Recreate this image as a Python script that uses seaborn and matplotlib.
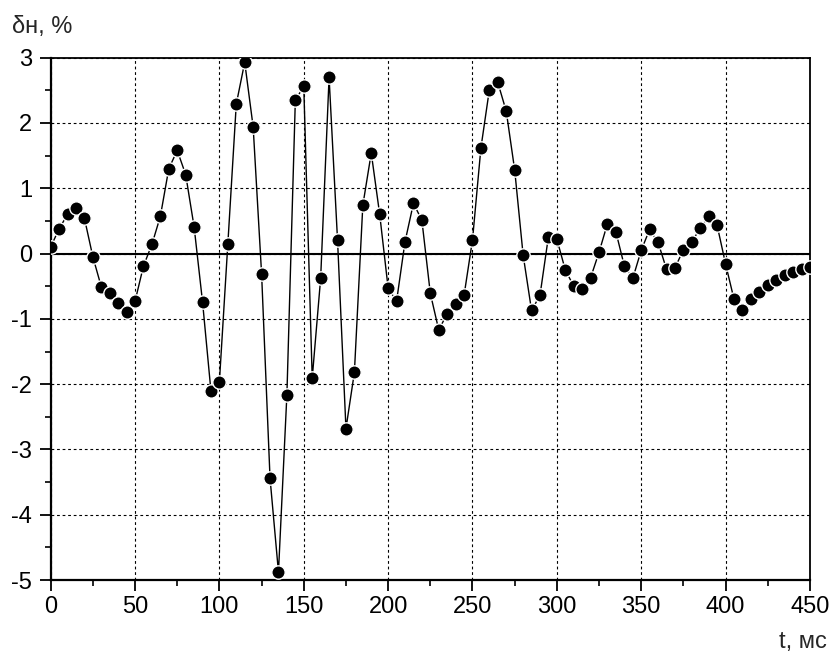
import matplotlib
matplotlib.use("Agg")
import matplotlib.pyplot as plt
from matplotlib.ticker import MultipleLocator
import seaborn as sns
import pandas as pd

# time stamps, ms
t_ms = [0, 5, 10, 15, 20, 25, 30, 35, 40, 45, 50, 55, 60, 65, 70, 75, 80, 85, 90, 95,
        100, 105, 110, 115, 120, 125, 130, 135, 140, 145, 150, 155, 160, 165, 170, 175,
        180, 185, 190, 195, 200, 205, 210, 215, 220, 225, 230, 235, 240, 245, 250, 255,
        260, 265, 270, 275, 280, 285, 290, 295, 300, 305, 310, 315, 320, 325, 330, 335,
        340, 345, 350, 355, 360, 365, 370, 375, 380, 385, 390, 395, 400, 405, 410, 415,
        420, 425, 430, 435, 440, 445, 450]

# relative deviation, %
delta_pct = [0.10, 0.38, 0.60, 0.70, 0.54, -0.05, -0.51, -0.61, -0.75, -0.90,
             -0.73, -0.19, 0.14, 0.57, 1.30, 1.58, 1.21, 0.41, -0.74, -2.11,
             -1.96, 0.15, 2.29, 2.93, 1.94, -0.31, -3.44, -4.88, -2.16, 2.35,
             2.56, -1.91, -0.38, 2.70, 0.21, -2.68, -1.82, 0.74, 1.54, 0.60,
             -0.53, -0.73, 0.18, 0.77, 0.51, -0.61, -1.17, -0.92, -0.77, -0.64,
             0.21, 1.62, 2.51, 2.62, 2.18, 1.28, -0.02, -0.87, -0.64, 0.26,
             0.22, -0.25, -0.50, -0.55, -0.37, 0.02, 0.46, 0.33, -0.19, -0.38,
             0.05, 0.37, 0.17, -0.24, -0.22, 0.06, 0.18, 0.39, 0.57, 0.43,
             -0.16, -0.70, -0.87, -0.70, -0.59, -0.48, -0.40, -0.33, -0.28, -0.23,
             -0.20]

x_ticks = [0, 50, 100, 150, 200, 250, 300, 350, 400, 450]
y_ticks = [-5, -4, -3, -2, -1, 0, 1, 2, 3]

sns.set_style("ticks")
plt.rcParams["font.family"] = ["Liberation Sans", "DejaVu Sans"]

df = pd.DataFrame({"t": t_ms, "d": delta_pct})

fig = plt.figure(figsize=(8.35, 6.54), dpi=100)
ax = fig.add_axes([0.0607, 0.1131, 0.9093, 0.7987])

ax.axhline(0, color="black", lw=1.5, zorder=2)

sns.lineplot(data=df, x="t", y="d", ax=ax, color="black", lw=1.0,
             marker="o", markersize=9.6, markeredgecolor="white",
             markeredgewidth=1.0, markerfacecolor="black", zorder=3)

ax.set_xlim(0, 450)
ax.set_ylim(-5, 3)
ax.set_xticks(x_ticks)
ax.set_yticks(y_ticks)
ax.xaxis.set_minor_locator(MultipleLocator(25))
ax.yaxis.set_minor_locator(MultipleLocator(0.5))
ax.set_xticklabels([str(v) for v in x_ticks])
ax.set_yticklabels([str(v) for v in y_ticks])

ax.grid(True, which="major", color="black", linestyle=(0, (2.5, 2.5)), linewidth=0.8)
ax.set_axisbelow(True)

ax.tick_params(axis="both", which="major", direction="out", length=8, width=1.3,
               labelsize=17, color="black", labelcolor="black")
ax.tick_params(axis="x", which="major", pad=3.5)
ax.tick_params(axis="y", which="major", pad=5.5)
ax.tick_params(axis="both", which="minor", direction="out", length=4.5, width=1.2,
               color="black")

for side in ["left", "bottom"]:
    ax.spines[side].set_linewidth(1.6)
for side in ["top", "right"]:
    ax.spines[side].set_visible(True)
    ax.spines[side].set_linewidth(1.3)
for sp in ax.spines.values():
    sp.set_color("black")

ax.set_xlabel("")
ax.set_ylabel("")

fig.text(12 / 835, 1 - 33 / 654, "δн, %", fontsize=17, ha="left", va="baseline")
fig.text(827 / 835, 1 - 648 / 654, "t, мс", fontsize=17, ha="right", va="baseline")

fig.savefig("out.png", dpi=100)
